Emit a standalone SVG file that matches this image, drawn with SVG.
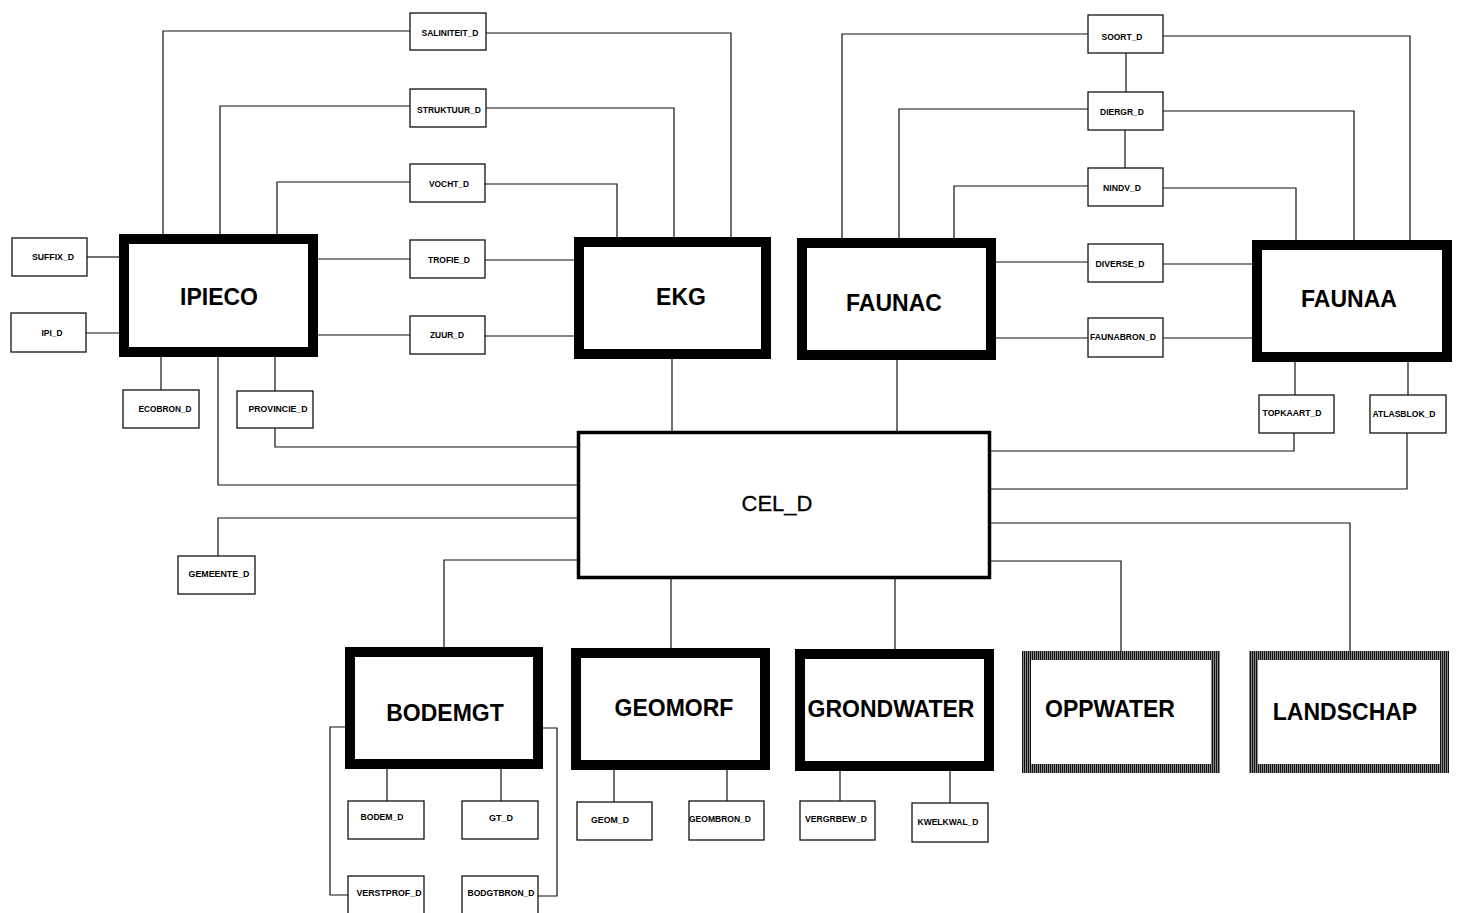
<svg xmlns="http://www.w3.org/2000/svg" width="1459" height="913" viewBox="0 0 1459 913">
  <style>
    .conn { fill: none; stroke: #111; stroke-width: 1.2; }
    .small { fill: #fff; stroke: #111; stroke-width: 1.3; }
    .major { fill: #fff; stroke: #000; stroke-width: 10; }
    .hatched { fill: #fff; stroke: url(#hatch); stroke-width: 9; }
    .cel { fill: #fff; stroke: #000; stroke-width: 3.5; }
    .lbl { font-family: "Liberation Sans", Arial, sans-serif; font-weight: bold; font-size: 8.5px; fill: #000; text-anchor: middle; }
    .big { font-family: "Liberation Sans", Arial, sans-serif; font-weight: bold; font-size: 23px; fill: #000; text-anchor: middle; }
    .celtxt { font-family: "Liberation Sans", Arial, sans-serif; font-size: 22px; fill: #000; text-anchor: middle; stroke: #000; stroke-width: 0.3; }
  </style>
  <defs>
    <!-- vertical striping used for the outline of the external tables -->
    <pattern id="hatch" width="2" height="4" patternUnits="userSpaceOnUse">
      <rect x="0" y="0" width="2" height="4" fill="#fff"/>
      <rect x="0" y="0" width="1.5" height="4" fill="#111"/>
    </pattern>
  </defs>
  <rect width="1459" height="913" fill="#fff"/>

  <g id="connectors">
    <!-- IPIECO / EKG attribute tables -->
    <polyline class="conn" points="410,31 163,31 163,234"/>
    <polyline class="conn" points="486,33 731,33 731,237"/>
    <polyline class="conn" points="410,106 220,106 220,234"/>
    <polyline class="conn" points="486,108 674,108 674,237"/>
    <polyline class="conn" points="410,182 277,182 277,234"/>
    <polyline class="conn" points="485,184 617,184 617,237"/>
    <line class="conn" x1="318" y1="259" x2="410" y2="259"/>
    <line class="conn" x1="485" y1="260" x2="574" y2="260"/>
    <line class="conn" x1="318" y1="335" x2="410" y2="335"/>
    <line class="conn" x1="485" y1="336" x2="574" y2="336"/>
    <line class="conn" x1="87" y1="257" x2="119" y2="257"/>
    <line class="conn" x1="86" y1="333" x2="119" y2="333"/>
    <line class="conn" x1="161" y1="357" x2="161" y2="390"/>
    <line class="conn" x1="275" y1="357" x2="275" y2="391"/>
    <!-- FAUNAC / FAUNAA attribute tables -->
    <polyline class="conn" points="1088,34 842,34 842,238"/>
    <polyline class="conn" points="1163,36 1410,36 1410,240"/>
    <polyline class="conn" points="1088,109 899,109 899,238"/>
    <polyline class="conn" points="1163,111 1354,111 1354,240"/>
    <polyline class="conn" points="1088,186 954,186 954,238"/>
    <polyline class="conn" points="1163,188 1296,188 1296,240"/>
    <line class="conn" x1="1126" y1="53" x2="1126" y2="92"/>
    <line class="conn" x1="1125" y1="130" x2="1125" y2="168"/>
    <line class="conn" x1="996" y1="262" x2="1088" y2="262"/>
    <line class="conn" x1="1163" y1="264" x2="1252" y2="264"/>
    <line class="conn" x1="996" y1="338" x2="1088" y2="338"/>
    <line class="conn" x1="1163" y1="338" x2="1252" y2="338"/>
    <line class="conn" x1="1295" y1="362" x2="1295" y2="395"/>
    <line class="conn" x1="1408" y1="362" x2="1408" y2="395"/>
    <!-- links to CEL_D -->
    <line class="conn" x1="672" y1="359" x2="672" y2="431"/>
    <line class="conn" x1="897" y1="360" x2="897" y2="431"/>
    <polyline class="conn" points="1294,433 1294,451 991,451"/>
    <polyline class="conn" points="1407,433 1407,489 991,489"/>
    <polyline class="conn" points="991,523 1350,523 1350,651"/>
    <polyline class="conn" points="991,561 1121,561 1121,651"/>
    <line class="conn" x1="895" y1="579" x2="895" y2="649"/>
    <line class="conn" x1="671" y1="579" x2="671" y2="648"/>
    <polyline class="conn" points="577,560 444,560 444,647"/>
    <polyline class="conn" points="577,518 218,518 218,556"/>
    <polyline class="conn" points="218,357 218,485 577,485"/>
    <polyline class="conn" points="275,428 275,447 577,447"/>
    <!-- BODEMGT attribute tables -->
    <line class="conn" x1="387" y1="769" x2="387" y2="801"/>
    <line class="conn" x1="501" y1="769" x2="501" y2="801"/>
    <polyline class="conn" points="345,727 330,727 330,895 348,895"/>
    <polyline class="conn" points="543,728 557,728 557,896 538,896"/>
    <!-- GEOMORF / GRONDWATER attribute tables -->
    <line class="conn" x1="614" y1="770" x2="614" y2="802"/>
    <line class="conn" x1="727" y1="770" x2="727" y2="801"/>
    <line class="conn" x1="840" y1="771" x2="840" y2="801"/>
    <line class="conn" x1="950" y1="771" x2="950" y2="803"/>
  </g>

  <!-- main tables -->
  <g id="IPIECO"><rect class="major" x="124" y="239" width="189" height="113"/><text class="big" x="219" y="305">IPIECO</text></g>
  <g id="EKG"><rect class="major" x="579" y="242" width="187" height="112"/><text class="big" x="681" y="305">EKG</text></g>
  <g id="FAUNAC"><rect class="major" x="802" y="243" width="189" height="112"/><text class="big" x="894" y="311">FAUNAC</text></g>
  <g id="FAUNAA"><rect class="major" x="1257" y="245" width="190" height="112"/><text class="big" x="1349" y="307">FAUNAA</text></g>
  <g id="BODEMGT"><rect class="major" x="350" y="652" width="188" height="112"/><text class="big" x="445" y="721">BODEMGT</text></g>
  <g id="GEOMORF"><rect class="major" x="576" y="653" width="189" height="112"/><text class="big" x="674" y="716">GEOMORF</text></g>
  <g id="GRONDWATER"><rect class="major" x="800" y="654" width="189" height="112"/><text class="big" x="891" y="717">GRONDWATER</text></g>
  <g id="OPPWATER"><rect class="hatched" x="1026.5" y="655.5" width="189" height="113"/><text class="big" x="1110" y="717">OPPWATER</text></g>
  <g id="LANDSCHAP"><rect class="hatched" x="1253.5" y="655.5" width="191" height="113"/><text class="big" x="1345" y="720">LANDSCHAP</text></g>
  <g id="CEL_D"><rect class="cel" x="578.5" y="432.5" width="411" height="145"/><text class="celtxt" x="777" y="511">CEL_D</text></g>

  <!-- attribute tables -->
  <g id="SALINITEIT_D"><rect class="small" x="410" y="13" width="76" height="37"/><text class="lbl" x="450" y="36" textLength="57" lengthAdjust="spacingAndGlyphs">SALINITEIT_D</text></g>
  <g id="STRUKTUUR_D"><rect class="small" x="410" y="89" width="76" height="38"/><text class="lbl" x="449" y="113" textLength="64" lengthAdjust="spacingAndGlyphs">STRUKTUUR_D</text></g>
  <g id="VOCHT_D"><rect class="small" x="410" y="164" width="75" height="38"/><text class="lbl" x="449" y="187" textLength="40" lengthAdjust="spacingAndGlyphs">VOCHT_D</text></g>
  <g id="TROFIE_D"><rect class="small" x="410" y="240" width="75" height="38"/><text class="lbl" x="449" y="263" textLength="42" lengthAdjust="spacingAndGlyphs">TROFIE_D</text></g>
  <g id="ZUUR_D"><rect class="small" x="410" y="316" width="75" height="38"/><text class="lbl" x="447" y="338" textLength="34" lengthAdjust="spacingAndGlyphs">ZUUR_D</text></g>
  <g id="SUFFIX_D"><rect class="small" x="12" y="238" width="75" height="38"/><text class="lbl" x="53" y="260" textLength="42" lengthAdjust="spacingAndGlyphs">SUFFIX_D</text></g>
  <g id="IPI_D"><rect class="small" x="11" y="313" width="75" height="39"/><text class="lbl" x="52" y="336" textLength="21" lengthAdjust="spacingAndGlyphs">IPI_D</text></g>
  <g id="ECOBRON_D"><rect class="small" x="123" y="390" width="76" height="38"/><text class="lbl" x="165" y="412" textLength="53" lengthAdjust="spacingAndGlyphs">ECOBRON_D</text></g>
  <g id="PROVINCIE_D"><rect class="small" x="237" y="391" width="76" height="37"/><text class="lbl" x="278" y="412" textLength="59" lengthAdjust="spacingAndGlyphs">PROVINCIE_D</text></g>
  <g id="GEMEENTE_D"><rect class="small" x="178" y="556" width="77" height="38"/><text class="lbl" x="219" y="577" textLength="61" lengthAdjust="spacingAndGlyphs">GEMEENTE_D</text></g>
  <g id="SOORT_D"><rect class="small" x="1088" y="15" width="75" height="38"/><text class="lbl" x="1122" y="40" textLength="41" lengthAdjust="spacingAndGlyphs">SOORT_D</text></g>
  <g id="DIERGR_D"><rect class="small" x="1088" y="92" width="75" height="38"/><text class="lbl" x="1122" y="115" textLength="44" lengthAdjust="spacingAndGlyphs">DIERGR_D</text></g>
  <g id="NINDV_D"><rect class="small" x="1088" y="168" width="75" height="38"/><text class="lbl" x="1122" y="191" textLength="38" lengthAdjust="spacingAndGlyphs">NINDV_D</text></g>
  <g id="DIVERSE_D"><rect class="small" x="1088" y="244" width="75" height="38"/><text class="lbl" x="1120" y="267" textLength="49" lengthAdjust="spacingAndGlyphs">DIVERSE_D</text></g>
  <g id="FAUNABRON_D"><rect class="small" x="1088" y="318" width="75" height="39"/><text class="lbl" x="1123" y="340" textLength="66" lengthAdjust="spacingAndGlyphs">FAUNABRON_D</text></g>
  <g id="TOPKAART_D"><rect class="small" x="1259" y="395" width="75" height="38"/><text class="lbl" x="1292" y="416" textLength="59" lengthAdjust="spacingAndGlyphs">TOPKAART_D</text></g>
  <g id="ATLASBLOK_D"><rect class="small" x="1370" y="395" width="76" height="38"/><text class="lbl" x="1404" y="417" textLength="63" lengthAdjust="spacingAndGlyphs">ATLASBLOK_D</text></g>
  <g id="BODEM_D"><rect class="small" x="348" y="801" width="76" height="38"/><text class="lbl" x="382" y="820" textLength="43" lengthAdjust="spacingAndGlyphs">BODEM_D</text></g>
  <g id="GT_D"><rect class="small" x="462" y="801" width="76" height="38"/><text class="lbl" x="501" y="821" textLength="24" lengthAdjust="spacingAndGlyphs">GT_D</text></g>
  <g id="VERSTPROF_D"><rect class="small" x="348" y="876" width="76" height="40"/><text class="lbl" x="389" y="896" textLength="65" lengthAdjust="spacingAndGlyphs">VERSTPROF_D</text></g>
  <g id="BODGTBRON_D"><rect class="small" x="462" y="876" width="76" height="40"/><text class="lbl" x="501" y="896" textLength="67" lengthAdjust="spacingAndGlyphs">BODGTBRON_D</text></g>
  <g id="GEOM_D"><rect class="small" x="577" y="802" width="75" height="38"/><text class="lbl" x="610" y="823" textLength="38" lengthAdjust="spacingAndGlyphs">GEOM_D</text></g>
  <g id="GEOMBRON_D"><rect class="small" x="689" y="801" width="75" height="39"/><text class="lbl" x="720" y="822" textLength="62" lengthAdjust="spacingAndGlyphs">GEOMBRON_D</text></g>
  <g id="VERGRBEW_D"><rect class="small" x="800" y="801" width="75" height="39"/><text class="lbl" x="836" y="822" textLength="62" lengthAdjust="spacingAndGlyphs">VERGRBEW_D</text></g>
  <g id="KWELKWAL_D"><rect class="small" x="912" y="803" width="76" height="39"/><text class="lbl" x="948" y="825" textLength="61" lengthAdjust="spacingAndGlyphs">KWELKWAL_D</text></g>
</svg>
